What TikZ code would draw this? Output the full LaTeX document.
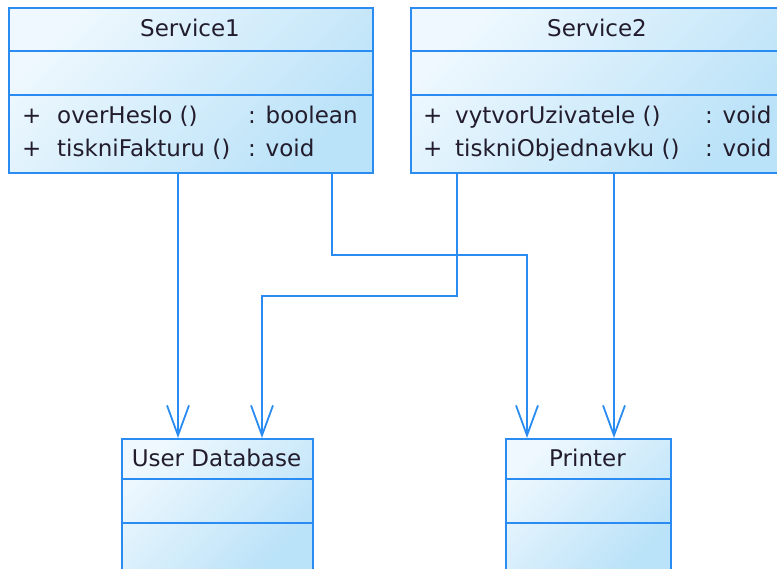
\documentclass[tikz,border=0pt]{standalone}
\usepackage{fontspec}
\setmainfont{DejaVu Sans}
\usetikzlibrary{arrows.meta}
\definecolor{umlline}{RGB}{42,140,242}
\definecolor{umllight}{RGB}{238,248,254}
\definecolor{umldark}{RGB}{186,226,248}
\definecolor{umltext}{RGB}{34,28,44}
\tikzset{
  umlclass/.style={draw=umlline, line width=1.8pt, rectangle, inner sep=0pt,
    anchor=north west, top color=umllight, bottom color=umldark, shading angle=45},
  sep/.style={draw=umlline, line width=1.8pt},
  dep/.style={draw=umlline, line width=1.8pt,
    -{Straight Barb[length=30pt, width=22pt, line width=1.8pt]}},
  txt/.style={text=umltext, inner sep=0pt, font=\fontsize{23}{27}\selectfont},
}
\begin{document}
\begin{tikzpicture}[x=1pt, y=-1pt]
  \useasboundingbox (0,0) rectangle (777,569);
  \begin{scope}
    \clip (0,0) rectangle (777,569);
    % class boxes
    \node[umlclass, minimum width=364pt, minimum height=165pt] (s1) at (8,7) {};
    \node[umlclass, minimum width=375pt, minimum height=165pt] (s2) at (410,7) {};
    \node[umlclass, minimum width=191pt, minimum height=131pt] (db) at (121,438) {};
    \node[umlclass, minimum width=165pt, minimum height=131pt] (pr) at (505,438) {};
    % compartment separators
    \foreach \b in {s1,s2} {
      \draw[sep] ([yshift=-44pt]\b.north west) -- ([yshift=-44pt]\b.north east);
      \draw[sep] ([yshift=-88pt]\b.north west) -- ([yshift=-88pt]\b.north east);
    }
    \foreach \b in {db,pr} {
      \draw[sep] ([yshift=-41pt]\b.north west) -- ([yshift=-41pt]\b.north east);
      \draw[sep] ([yshift=-85pt]\b.north west) -- ([yshift=-85pt]\b.north east);
    }
  \end{scope}
  % class names
  \node[txt, anchor=base] (s1name) at (190,37) {Service1};
  \node[txt, anchor=base] (s2name) at (597,37) {Service2};
  \node[txt, anchor=base] (dbname) at (216.5,466) {User Database};
  \node[txt, anchor=base] (prname) at (587.5,466) {Printer};
  % operations of Service1
  \node[txt, anchor=base west] (s1p1) at (22,124) {+};
  \node[txt, anchor=base west] (s1o1) at (57,124) {overHeslo ()};
  \node[txt, anchor=base west] (s1t1) at (248,124) {: boolean};
  \node[txt, anchor=base west] (s1p2) at (22,157) {+};
  \node[txt, anchor=base west] (s1o2) at (57,157) {tiskniFakturu ()};
  \node[txt, anchor=base west] (s1t2) at (248,157) {: void};
  % operations of Service2
  \node[txt, anchor=base west] (s2p1) at (423,124) {+};
  \node[txt, anchor=base west] (s2o1) at (455,124) {vytvorUzivatele ()};
  \node[txt, anchor=base west] (s2t1) at (705,124) {: void};
  \node[txt, anchor=base west] (s2p2) at (423,157) {+};
  \node[txt, anchor=base west] (s2o2) at (455,157) {tiskniObjednavku ()};
  \node[txt, anchor=base west] (s2t2) at (705,157) {: void};
  % connector end points on the class borders
  \coordinate (s1a) at ([xshift=170pt]s1.south west);
  \coordinate (s1b) at ([xshift=324pt]s1.south west);
  \coordinate (s2a) at ([xshift=47pt]s2.south west);
  \coordinate (s2b) at ([xshift=204pt]s2.south west);
  \coordinate (dba) at ([xshift=57pt]db.north west);
  \coordinate (dbb) at ([xshift=141pt]db.north west);
  \coordinate (pra) at ([xshift=22pt]pr.north west);
  \coordinate (prb) at ([xshift=109pt]pr.north west);
  \coordinate (j1) at (527,255);
  \coordinate (j2) at (262,296);
  % dependencies
  \draw[dep] (s1a) -- (dba);
  \draw[dep] (s1b) |- (j1) -- (pra);
  \draw[dep] (s2a) |- (j2) -- (dbb);
  \draw[dep] (s2b) -- (prb);
\end{tikzpicture}
\end{document}
